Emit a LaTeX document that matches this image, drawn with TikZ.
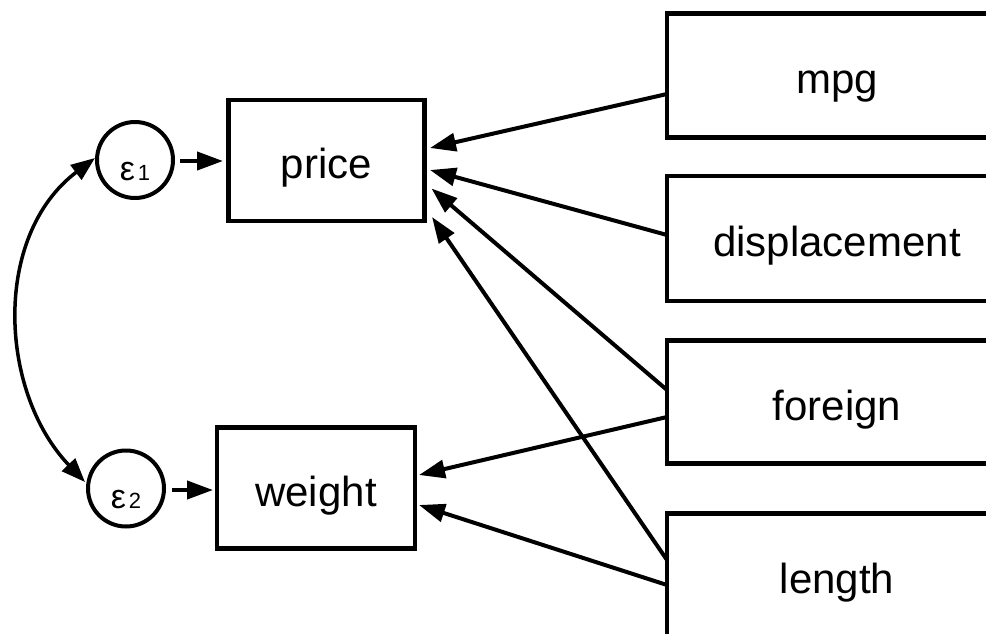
\documentclass[tikz,border=0pt]{standalone}
\usepackage{fontspec}
\setmainfont{Liberation Sans}
\usetikzlibrary{arrows.meta,calc}
\newcommand{\errlab}[1]{{\fontsize{34}{34}\selectfont ε}\kern3pt{\fontsize{22}{22}\selectfont #1}}
\begin{document}
\begin{tikzpicture}[x=1pt,y=-1pt,
  box/.style={draw, line width=4.5pt, rectangle, inner sep=0pt, outer sep=0pt,
    text height=36pt, text depth=0pt, font=\fontsize{42}{50}\selectfont},
  err/.style={draw, circle, line width=4pt, inner sep=0pt, outer sep=0pt,
    minimum size=76pt, text height=40pt, text depth=0pt},
  arr/.style={line width=4pt, -{Triangle[length=26pt,width=18pt]}},
  cov/.style={line width=3.5pt, {Triangle[length=24pt,width=18pt]}-{Triangle[length=24pt,width=18pt]}}
]
\clip (0,0) rectangle (986,634);
\fill[white] (0,0) rectangle (986,634);
\node[box, minimum width=196pt, minimum height=121pt] (price) at (326.5,160.5) {price};
\node[box, minimum width=198pt, minimum height=121pt] (weight) at (316,488) {weight};
\node[box, minimum width=340pt, minimum height=124pt] (mpg) at (837,75.5) {mpg};
\node[box, minimum width=340pt, minimum height=125pt] (disp) at (837,238.5) {displacement};
\node[box, minimum width=340pt, minimum height=123pt] (foreign) at (837,402) {foreign};
\node[box, minimum width=340pt, minimum height=124pt] (length) at (837,575.5) {length};
\node[err] (e1) at (135,160) {\errlab{1}};
\node[err] (e2) at (126,488.5) {\errlab{2}};
% paths from errors
\draw[arr] ($(e1.east)+(7,1)$) -- ($(price.west)+(-5.5,0.5)$);
\draw[arr] ($(e2.east)+(8,1.5)$) -- ($(weight.west)+(-4,2)$);
% paths from exogenous variables
\draw[arr] ($(mpg.west)+(0,18.5)$) -- ($(price.east)+(5.5,-12.5)$);
\draw[arr] ($(disp.west)+(0,-3.5)$) -- ($(price.east)+(5.5,9.5)$);
\draw[arr] ($(foreign.west)+(0,-12)$) -- ($(price.east)+(7,28)$);
\draw[arr] ($(length.west)+(0,-15.5)$) -- ($(price.east)+(7.5,56.5)$);
\draw[arr] ($(foreign.west)+(0,15)$) -- ($(weight.east)+(4,-13)$);
\draw[arr] ($(length.west)+(0,9.5)$) -- ($(weight.east)+(4,17)$);
% covariance
\coordinate (c1) at ($(e1.center)+(-40,-2)$);
\coordinate (c2) at ($(e2.center)+(-41,-6.5)$);
\draw[cov] (c1) .. controls ($(c1)+(-103,78)$) and ($(c2)+(-86,-90)$) .. (c2);
\end{tikzpicture}
\end{document}
